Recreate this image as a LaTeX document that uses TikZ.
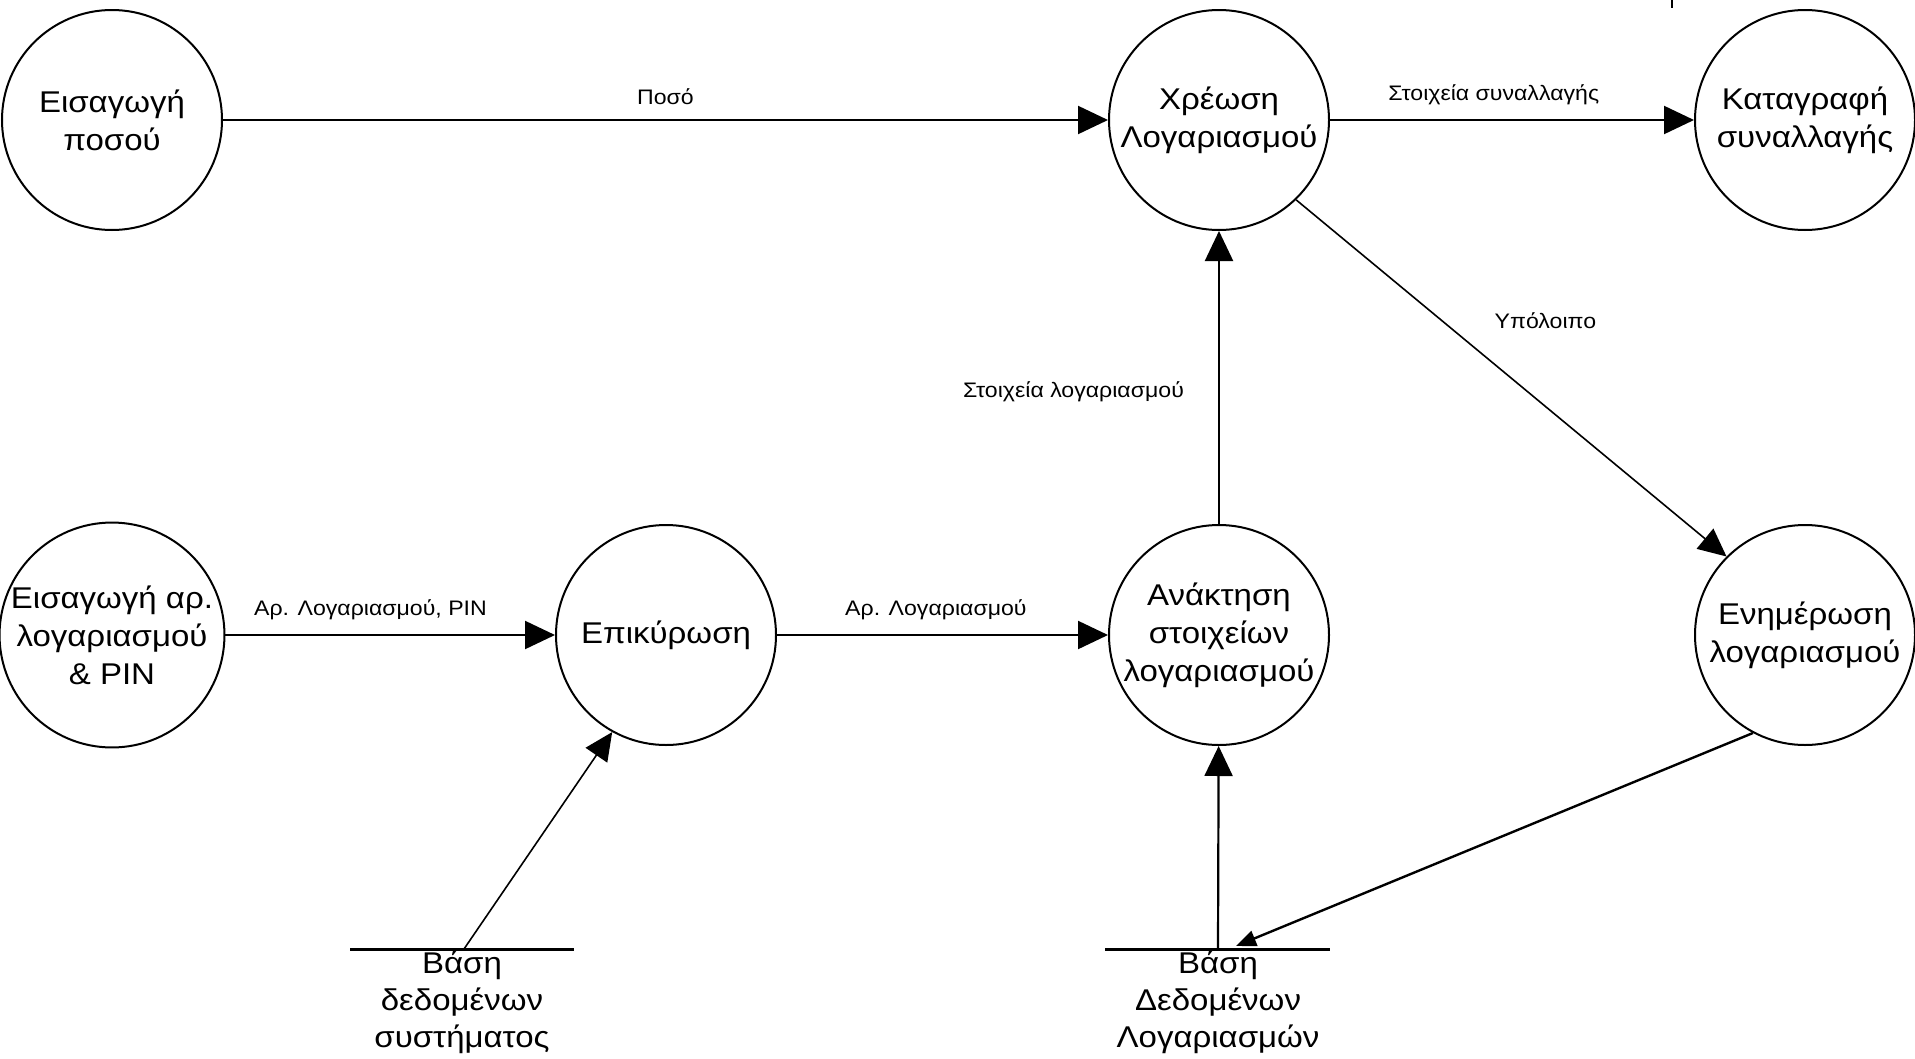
\documentclass[tikz,border=0pt]{standalone}
\usepackage{fontspec}
\setmainfont[FakeStretch=1.1]{Liberation Sans}
\usetikzlibrary{arrows.meta}
\tikzset{
  proc/.style={circle, draw, line width=2pt, minimum size=220pt, inner sep=0pt, align=center,
    font=\fontsize{30}{38}\selectfont},
  storetext/.style={anchor=north, inner sep=2pt, align=center, font=\fontsize{30}{37}\selectfont},
  storeline/.style={line width=3pt},
  flow/.style={line width=2.2pt, -{Triangle[length=30pt,width=28pt]}},
  thinflow/.style={line width=1.6pt, -{Triangle[length=28pt,width=26pt]}},
  smallflow/.style={line width=2.4pt, -{Triangle[length=20pt,width=16pt]}},
  lbl/.style={font=\fontsize{21}{24}\selectfont, inner sep=0pt}
}
\begin{document}
\begin{tikzpicture}[x=1pt,y=-1pt]
\useasboundingbox (0,0) rectangle (1915,1058);
\node[proc] (eisposo) at (112,120) {Εισαγωγή\\ποσού};
\node[proc] (xrewsi) at (1219,120) {Χρέωση\\Λογαριασμού};
\node[proc] (katagr) at (1805,120) {Καταγραφή\\συναλλαγής};
\node[proc] (eisar) at (112,635) {Εισαγωγή αρ.\\λογαριασμού\\\& PIN};
\node[proc] (epik) at (666,635) {Επικύρωση};
\node[proc] (anakt) at (1219,635) {Ανάκτηση\\στοιχείων\\λογαριασμού};
\node[proc] (enim) at (1805,635) {Ενημέρωση\\λογαριασμού};

\coordinate (db1) at (462,949);
\coordinate (db2) at (1218,949);
\node[storetext] (db1t) at (db1) {Βάση\\δεδομένων\\συστήματος};
\node[storetext] (db2t) at (db2) {Βάση\\Δεδομένων\\Λογαριασμών};
\draw[storeline] (350,949) -- (574,949);
\draw[storeline] (1105,949) -- (1330,949);
\coordinate (db1src) at (464,949);
\coordinate (db2in) at (1236,946);
\coordinate (tickA) at (1672,0);
\coordinate (tickB) at (1672,8);
\draw[line width=2.5pt] (tickA) -- (tickB);

\draw[flow] (eisposo) -- (xrewsi) node[lbl, pos=0.5, above=14pt] {Ποσό};
\draw[flow] (xrewsi) -- (katagr) node[lbl, pos=0.45, above=14pt] {Στοιχεία συναλλαγής};
\draw[flow] (eisar) -- (epik) node[lbl, pos=0.44, above=14pt] {Αρ. Λογαριασμού, PIN};
\draw[flow] (epik) -- (anakt) node[lbl, pos=0.48, above=14pt] {Αρ. Λογαριασμού};
\draw[flow] (anakt) -- (xrewsi) node[lbl, pos=0.45, left=34pt] {Στοιχεία λογαριασμού};
\draw[thinflow] (xrewsi.314) -- (enim.135) node[lbl, pos=0.47, xshift=47pt, yshift=47pt] {Υπόλοιπο};
\draw[flow] (db2) -- (anakt);
\draw[thinflow] (db1src) -- (epik.241);
\draw[smallflow] (enim.242) -- (db2in);
\end{tikzpicture}
\end{document}
